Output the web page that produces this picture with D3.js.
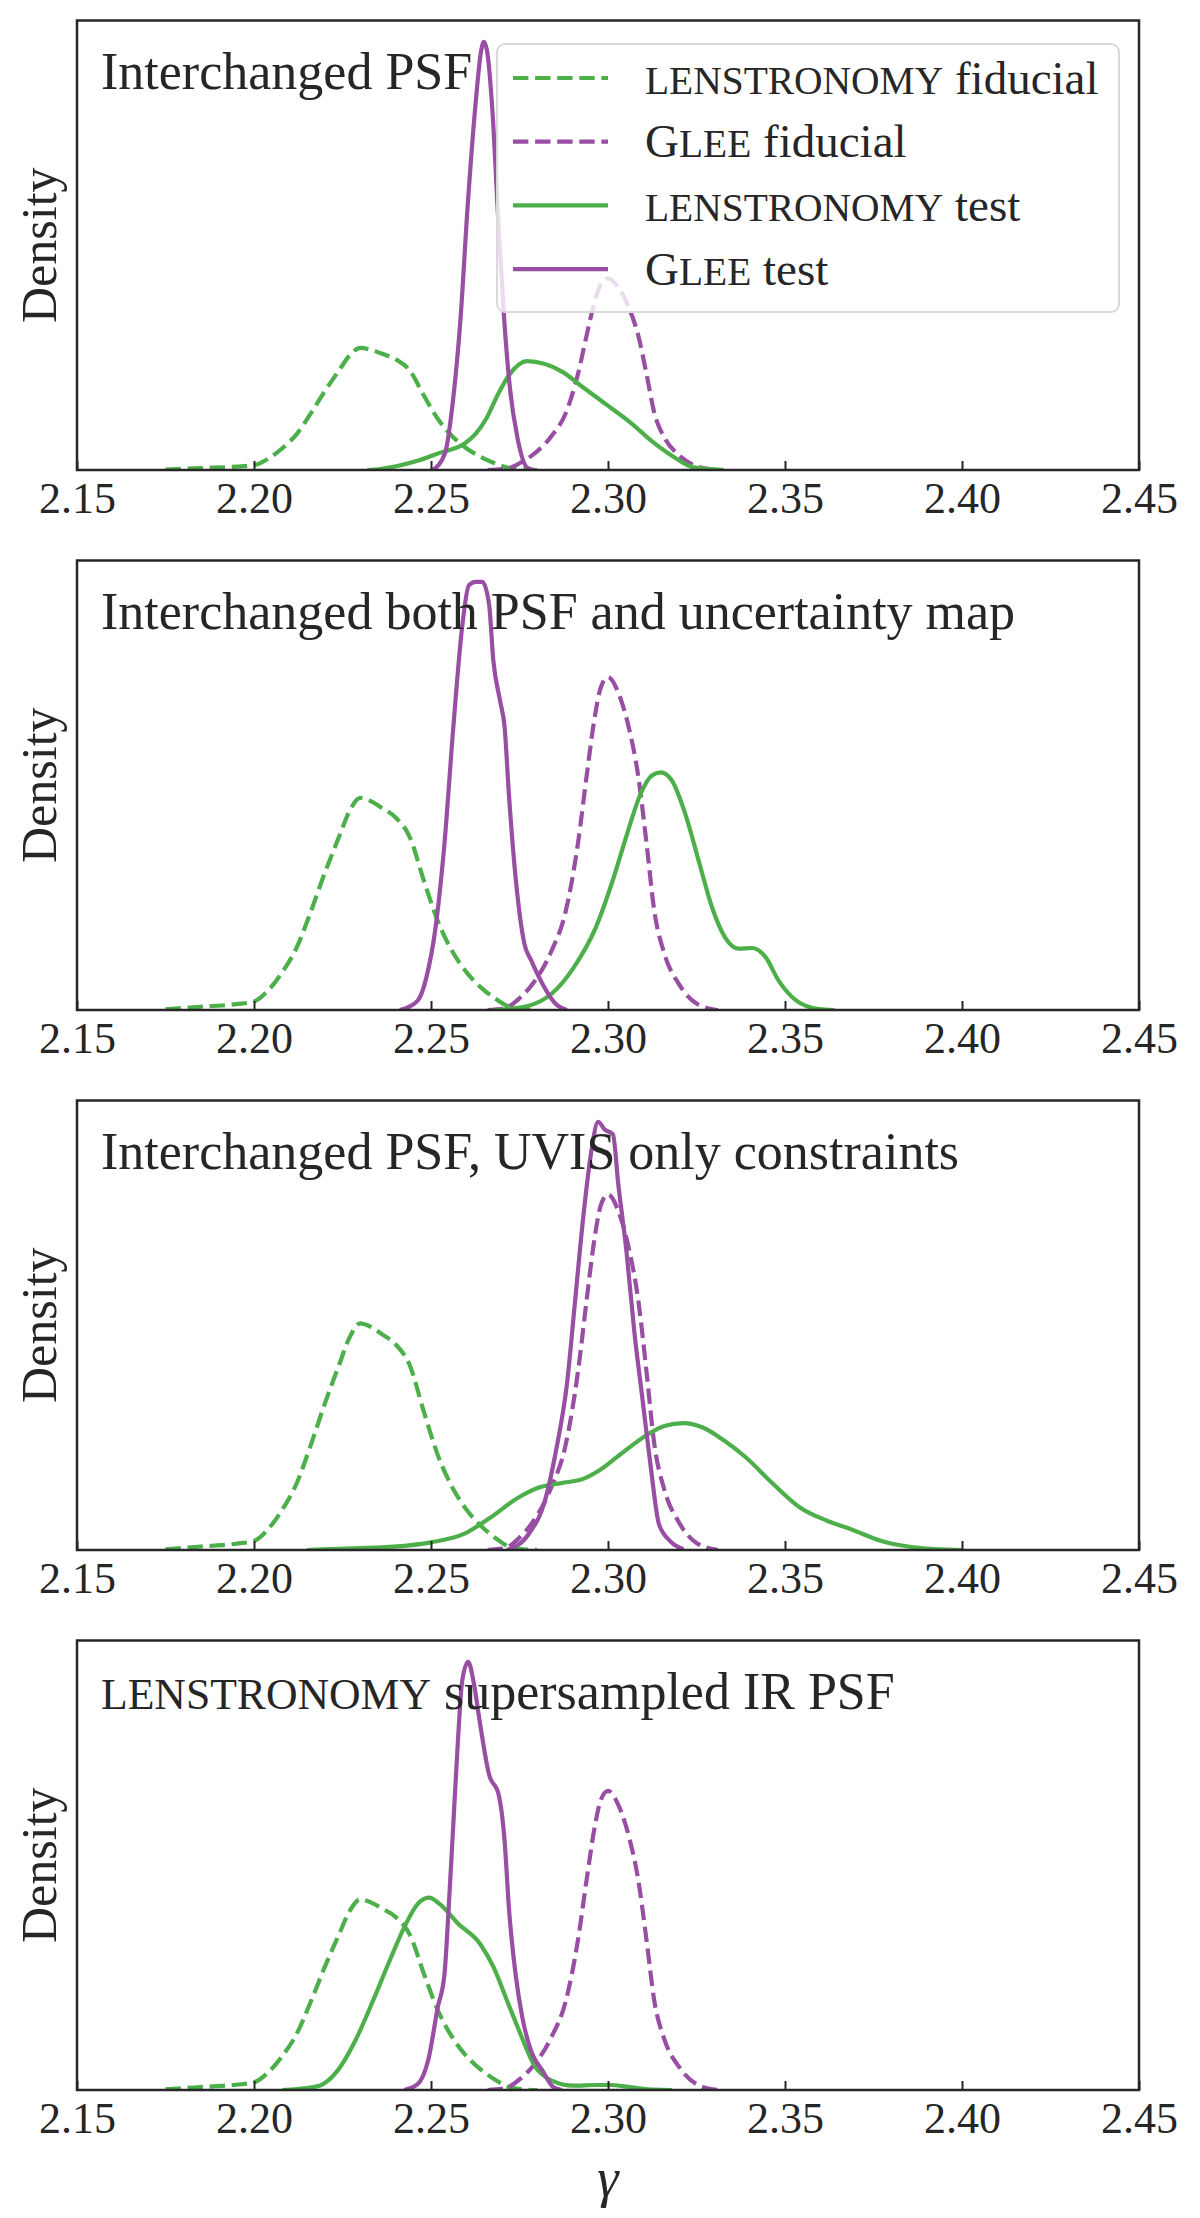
<!DOCTYPE html>
<html>
<head>
<meta charset="utf-8">
<script src="https://cdn.jsdelivr.net/npm/d3@7"></script>
<style>
  body { margin: 0; background: #fff; }
  text { font-family: "Liberation Serif", "DejaVu Serif", serif; fill: #262626; white-space: pre; }
</style>
</head>
<body>
<div id="canvas"></div>
<script>
// x axis
var gammaTicks = [2.15, 2.20, 2.25, 2.30, 2.35, 2.40, 2.45];
var gammaDomain = [2.15, 2.45];

// fiducial runs (same in every panel)
var fidLensX = [2.175, 2.185, 2.195, 2.200, 2.204, 2.208, 2.212, 2.216, 2.220, 2.224, 2.227, 2.230, 2.233, 2.236, 2.240, 2.244, 2.248, 2.252, 2.256, 2.260, 2.264, 2.268, 2.272, 2.276, 2.280];
var fidLensY = [0.1, 0.5, 0.9, 1.3, 3.0, 5.8, 9.5, 15.0, 21.0, 26.5, 30.5, 32.5, 32.0, 31.0, 29.5, 26.5, 19.8, 13.5, 9.0, 5.8, 3.5, 1.8, 0.5, 0.1, 0.0];
var fidGleeX = [2.266, 2.271, 2.275, 2.279, 2.284, 2.288, 2.2915, 2.294, 2.296, 2.298, 2.300, 2.303, 2.306, 2.3085, 2.311, 2.313, 2.316, 2.320, 2.325, 2.331];
var fidGleeY = [0.0, 0.3, 1.8, 4.2, 9.0, 15.0, 25.5, 36.0, 44.0, 49.5, 51.0, 48.5, 43.0, 36.0, 25.0, 15.5, 8.5, 4.0, 1.0, 0.0];

// panel 1: interchanged PSF
var psfLensX = [2.232, 2.2356, 2.2464, 2.2529, 2.2593, 2.2626, 2.2658, 2.269, 2.2723, 2.2771, 2.282, 2.2874, 2.2917, 2.2993, 2.3068, 2.3122, 2.3187, 2.3241, 2.3327];
var psfLensY = [0.0, 0.27, 2.5, 4.7, 6.9, 9.6, 14.0, 20.3, 25.6, 29.0, 28.3, 26.0, 22.9, 17.6, 12.3, 7.8, 3.4, 0.7, 0.0];
var psfGleeX = [2.2505, 2.2539, 2.2561, 2.2583, 2.2604, 2.2626, 2.2642, 2.2649, 2.2658, 2.2674, 2.269, 2.2707, 2.2723, 2.2744, 2.2771, 2.279];
var psfGleeY = [0, 4.3, 17.6, 39.8, 70.9, 97.6, 111.8, 114, 111.8, 94.9, 66.5, 39.8, 21.8, 8.7, 0.7, 0];

// panel 2: interchanged PSF and uncertainty map
var bothLensX = [2.268, 2.2714, 2.2777, 2.284, 2.2903, 2.2966, 2.3016, 2.3054, 2.3092, 2.3123, 2.3149, 2.318, 2.3218, 2.3256, 2.3294, 2.3331, 2.3369, 2.3407, 2.3445, 2.3482, 2.3533, 2.3596, 2.364];
var bothLensY = [0, 0.15, 0.66, 2.45, 6.5, 12.7, 20.3, 27.0, 33.1, 35.9, 36.4, 35.2, 30.1, 22.9, 15.7, 11.1, 9.4, 9.5, 8.1, 4.5, 1.4, 0.15, 0];
var bothGleeX = [2.2412, 2.2462, 2.2487, 2.2513, 2.2538, 2.2563, 2.2588, 2.2607, 2.2626, 2.2645, 2.2664, 2.2676, 2.2695, 2.2708, 2.272, 2.2739, 2.2764, 2.2783, 2.2815, 2.2853, 2.2884];
var bothGleeY = [0, 1.4, 5.0, 12.7, 25.5, 43.3, 58.7, 65.1, 65.6, 65.6, 62.2, 53.6, 47.4, 43.3, 33.1, 20.3, 10.1, 7.6, 4.0, 0.9, 0];

// panel 3: interchanged PSF, UVIS only
var uvisLensX = [2.215, 2.221, 2.2394, 2.25, 2.2593, 2.2669, 2.2746, 2.2807, 2.2868, 2.293, 2.2975, 2.3037, 2.3113, 2.3159, 2.3213, 2.3266, 2.3328, 2.3389, 2.3466, 2.3542, 2.3619, 2.3695, 2.3772, 2.3848, 2.3925, 2.40];
var uvisLensY = [0, 0.14, 0.48, 1.1, 2.3, 4.7, 7.5, 9.0, 9.6, 10.2, 11.4, 13.8, 16.6, 17.8, 18.2, 17.6, 15.7, 13.3, 9.5, 6.1, 4.2, 2.8, 1.3, 0.5, 0.14, 0];
var uvisGleeX = [2.2715, 2.2776, 2.2822, 2.2853, 2.2884, 2.2907, 2.293, 2.2953, 2.2972, 2.2991, 2.3014, 2.3029, 2.3052, 2.3075, 2.3098, 2.3121, 2.3144, 2.3175, 2.3213];
var uvisGleeY = [0, 2.3, 7.1, 14.2, 23.8, 35.7, 47.7, 57.2, 61.4, 60.3, 59.6, 52.5, 42.9, 31.0, 21.4, 11.8, 3.7, 1.3, 0.1];

// panel 4: supersampled IR PSF
var superLensX = [2.208, 2.2122, 2.2185, 2.2236, 2.2286, 2.2336, 2.2387, 2.2424, 2.2462, 2.2494, 2.2525, 2.2576, 2.2639, 2.2677, 2.2715, 2.2753, 2.279, 2.2841, 2.2903, 2.2966, 2.3004, 2.3067, 2.313, 2.318];
var superLensY = [0, 0.17, 0.74, 3.3, 8.4, 15.2, 22.6, 27.7, 31.7, 32.8, 31.7, 28.4, 24.9, 20.9, 15.2, 9.5, 4.4, 1.6, 0.74, 0.85, 0.85, 0.45, 0.06, 0];
var superGleeX = [2.2424, 2.2462, 2.2494, 2.2519, 2.2538, 2.255, 2.2563, 2.2576, 2.2588, 2.2605, 2.262, 2.2639, 2.2664, 2.2691, 2.2708, 2.272, 2.2739, 2.2758, 2.2783, 2.2815, 2.2846, 2.287];
var superGleeY = [0, 1.0, 5.6, 14.1, 19.7, 31.1, 45.3, 59.5, 69.7, 73.0, 69.7, 62.3, 53.8, 50.4, 42.4, 31.1, 19.7, 12.4, 6.6, 3.3, 0.45, 0];

// text (sc = small caps)
var panelTitles = [
  [{t: "Interchanged PSF"}],
  [{t: "Interchanged both PSF and uncertainty map"}],
  [{t: "Interchanged PSF, UVIS only constraints"}],
  [{t: "lenstronomy", sc: true}, {t: " supersampled IR PSF"}]
];
var legendLabels = [
  [{t: "lenstronomy", sc: true}, {t: " fiducial"}],
  [{t: "G"}, {t: "lee", sc: true}, {t: " fiducial"}],
  [{t: "lenstronomy", sc: true}, {t: " test"}],
  [{t: "G"}, {t: "lee", sc: true}, {t: " test"}]
];

var testLens = [[psfLensX, psfLensY], [bothLensX, bothLensY], [uvisLensX, uvisLensY], [superLensX, superLensY]];
var testGlee = [[psfGleeX, psfGleeY], [bothGleeX, bothGleeY], [uvisGleeX, uvisGleeY], [superGleeX, superGleeY]];

var green = "#4daf4a", purple = "#984ea3", ink = "#262626";
var lw = 4.2, dash = "15.4,6.7";

var W = 1200, H = 2218;
var left = 77, plotW = 1062, plotH = 449.5, top0 = 20.5, step = 540;

var svg = d3.select("#canvas").append("svg")
  .attr("width", W)
  .attr("height", H);
svg.append("rect").attr("width", W).attr("height", H).attr("fill", "#fff");

var x = d3.scaleLinear().domain(gammaDomain).range([0, plotW]);

function zipXY(xs, ys) {
  return xs.map(function(v, i) { return [v, ys[i]]; });
}

// write text with optional small caps parts
function richText(sel, parts, size) {
  parts.forEach(function(p) {
    sel.append("tspan")
      .style("font-size", (p.sc ? size * 0.84 : size) + "px")
      .text(p.sc ? p.t.toUpperCase() : p.t);
  });
}

for (var i = 0; i < 4; i++) {
  var curves = [
    {pts: zipXY(fidLensX, fidLensY), color: green, dashed: true},
    {pts: zipXY(fidGleeX, fidGleeY), color: purple, dashed: true},
    {pts: zipXY(testLens[i][0], testLens[i][1]), color: green, dashed: false},
    {pts: zipXY(testGlee[i][0], testGlee[i][1]), color: purple, dashed: false}
  ];
  var ymax = d3.max(curves, function(c) { return d3.max(c.pts, function(p) { return p[1]; }); }) * 1.05;
  var y = d3.scaleLinear().domain([0, ymax]).range([plotH, 0]);

  var g = svg.append("g")
    .attr("transform", "translate(" + left + "," + (top0 + i * step) + ")");

  g.append("clipPath").attr("id", "clip" + i)
    .append("rect").attr("width", plotW).attr("height", plotH);

  var line = d3.line()
    .x(function(d) { return x(d[0]); })
    .y(function(d) { return y(d[1]); })
    .curve(d3.curveMonotoneX);

  g.append("g").attr("clip-path", "url(#clip" + i + ")")
    .selectAll("path")
    .data(curves)
    .enter().append("path")
      .attr("d", function(c) { return line(c.pts); })
      .attr("fill", "none")
      .attr("stroke", function(c) { return c.color; })
      .attr("stroke-width", lw)
      .attr("stroke-linejoin", "round")
      .attr("stroke-dasharray", function(c) { return c.dashed ? dash : null; });

  // bottom axis, ticks pointing in
  var ax = g.append("g")
    .attr("transform", "translate(0," + plotH + ")")
    .call(d3.axisBottom(x).tickValues(gammaTicks).tickFormat(d3.format(".2f"))
      .tickSizeInner(-9).tickSizeOuter(0).tickPadding(12));
  ax.select(".domain").remove();
  ax.selectAll(".tick line").attr("stroke", ink).attr("stroke-width", 2);
  ax.selectAll(".tick text")
    .attr("fill", ink)
    .style("font-family", "'Liberation Serif', serif")
    .style("font-size", "44px");

  // frame
  g.append("rect")
    .attr("width", plotW).attr("height", plotH)
    .attr("fill", "none").attr("stroke", ink).attr("stroke-width", 2.5);

  // panel title
  var title = g.append("text").attr("x", 24).attr("y", 68);
  richText(title, panelTitles[i], 52);

  // y label
  svg.append("text")
    .attr("transform", "translate(56," + (top0 + i * step + plotH / 2) + ") rotate(-90)")
    .attr("text-anchor", "middle")
    .style("font-size", "50px")
    .text("Density");

  // legend only in first panel
  if (i === 0) {
    var lg = g.append("g").attr("transform", "translate(" + (497 - left) + "," + (44 - top0) + ")");
    lg.append("rect")
      .attr("width", 622).attr("height", 268).attr("rx", 8)
      .attr("fill", "#fff").attr("fill-opacity", 0.8)
      .attr("stroke", "#d9d9d9").attr("stroke-width", 2);
    curves.forEach(function(c, k) {
      var ry = 34 + k * 63.7;
      lg.append("line")
        .attr("x1", 16).attr("x2", 111).attr("y1", ry).attr("y2", ry)
        .attr("stroke", c.color).attr("stroke-width", lw)
        .attr("stroke-dasharray", c.dashed ? dash : null);
      var t = lg.append("text").attr("x", 148).attr("y", ry + 15.5);
      richText(t, legendLabels[k], 47);
    });
  }
}

// x label
svg.append("text")
  .attr("x", left + plotW / 2)
  .attr("y", 2196)
  .attr("text-anchor", "middle")
  .style("font-size", "54px")
  .style("font-style", "italic")
  .text("γ");
</script>
</body>
</html>
